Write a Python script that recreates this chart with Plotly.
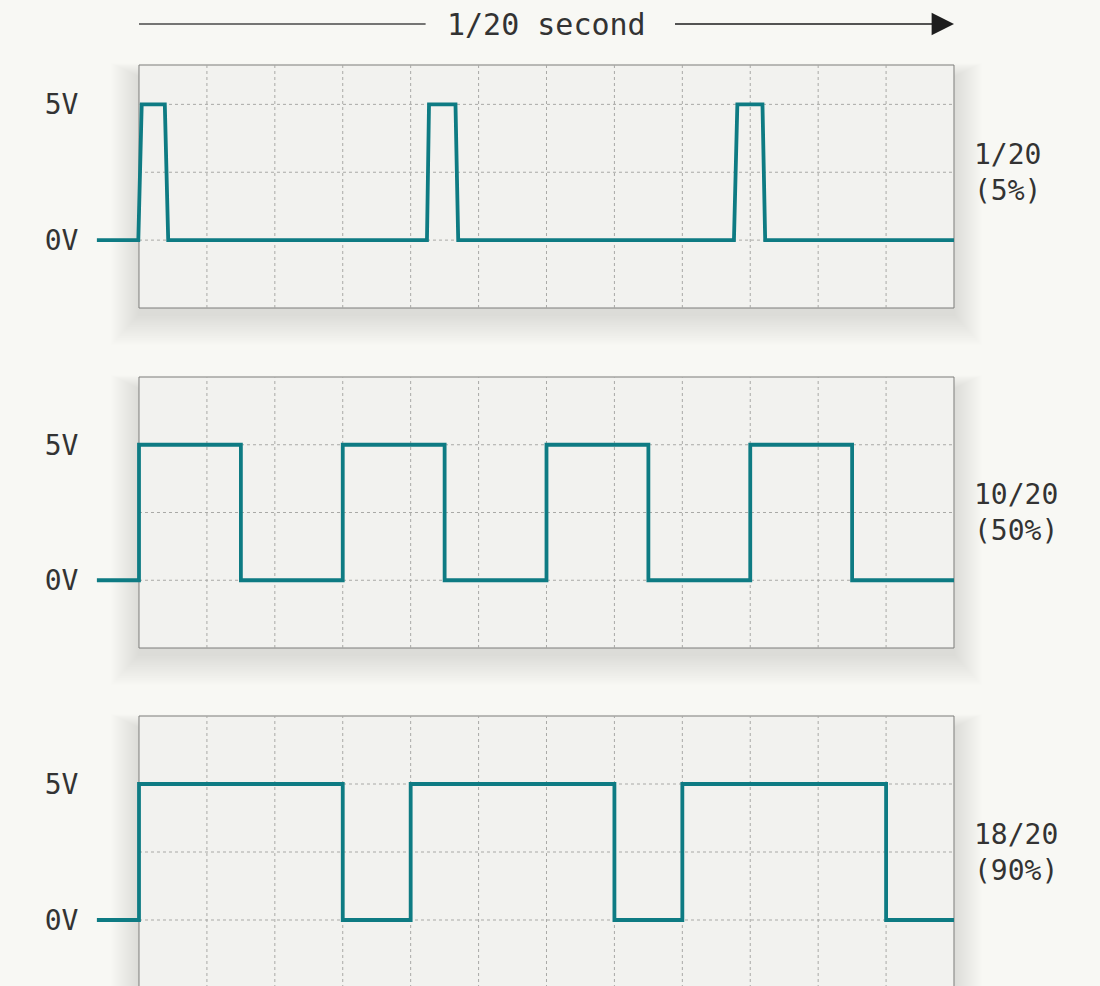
import plotly.graph_objects as go

W, H = 1100, 986

# ---------------- data ----------------
time_label = "1/20 second"
duty_labels = ["1/20<br>(5%)", "10/20<br>(50%)", "18/20<br>(90%)"]
volt_tickvals = [0, 5]
volt_ticktext = ["0V", "5V"]
grid_cols = list(range(1, 12))          # time divisions
grid_rows = [-2.5, 0, 2.5, 5, 7.5]      # volts

# panel 1: 5% duty (time in grid divisions, volts)
p1_t = [-0.62, -0.01, 0.04, 0.38, 0.43, 4.24, 4.27, 4.66, 4.70, 8.76, 8.81, 9.18, 9.22, 12.0]
p1_v = [0, 0, 5, 5, 0, 0, 5, 5, 0, 0, 5, 5, 0, 0]
# panel 2: 50% duty (step, hv)
p2_t = [-0.62, 0, 1.5, 3, 4.5, 6, 7.5, 9, 10.5, 12]
p2_v = [0, 5, 0, 5, 0, 5, 0, 5, 0, 0]
# panel 3: "90%" duty (step, hv)
p3_t = [-0.62, 0, 3, 4, 7, 8, 11, 12]
p3_v = [0, 5, 0, 5, 0, 5, 0, 0]

series = [(p1_t, p1_v, "linear"), (p2_t, p2_v, "hv"), (p3_t, p3_v, "hv")]

# ---------------- style / geometry ----------------
FONT = "DejaVu Sans Mono"
TXT = "#333333"
TEAL = "#0e7b83"
BG = "#f8f8f4"
PANEL = "#f2f2ef"
GRID = "#a9a9a6"

PX_L, PX_R = 139, 954
NDIV = 12
UNIT = (PX_R - PX_L) / NDIV
XR = [-0.7, 12.1]
xdom = [(PX_L + XR[0] * UNIT) / W, (PX_L + XR[1] * UNIT) / W]

# pixel top/bottom of each panel box and volts at its bottom/top
panels = [
    dict(top=65, bot=308, vlo=-2.5, vhi=6.45),
    dict(top=377, bot=648, vlo=-2.5, vhi=7.5),
    dict(top=716, bot=988, vlo=-2.5, vhi=7.5),
]

fig = go.Figure()
shapes, annotations = [], []
layout = dict(
    width=W, height=H,
    margin=dict(l=0, r=0, t=0, b=0),
    paper_bgcolor=BG, plot_bgcolor="rgba(0,0,0,0)",
    showlegend=False,
)

for i, (p, (t, v, shape)) in enumerate(zip(panels, series)):
    n = "" if i == 0 else str(i + 1)
    xa, ya = "x" + n, "y" + n
    s = (p["bot"] - p["top"]) / (p["vhi"] - p["vlo"])
    pad = 0.1
    top_px = p["top"] - pad * s
    bot_px = p["bot"] + pad * s
    ylo = p["vlo"] - pad
    if bot_px > H:
        ylo = p["vlo"] + (p["bot"] - H) / s
        bot_px = H
    yr = [ylo, p["vhi"] + pad]
    ydom = [max(0, 1 - bot_px / H), 1 - top_px / H]

    layout["xaxis" + n] = dict(domain=xdom, range=XR, visible=False, anchor=ya,
                               fixedrange=True)
    layout["yaxis" + n] = dict(
        domain=ydom, range=yr, anchor=xa, showgrid=False, zeroline=False,
        showline=False, ticks="", tickvals=volt_tickvals, ticktext=volt_ticktext,
        tickfont=dict(family=FONT, size=28, color=TXT), ticklabelstandoff=12,
        fixedrange=True,
    )

    # soft drop shadow (paper coords)
    for k in range(14):
        e = 2.2 * (k + 1)
        off = 6
        shapes.append(dict(
            type="rect", xref="paper", yref="paper", layer="below",
            x0=(PX_L - e * 0.9) / W, x1=(PX_R + e * 0.9) / W,
            y0=1 - (p["bot"] + off + e) / H, y1=1 - (p["top"] + off + 6 - e * 0.45) / H,
            fillcolor="rgba(60,60,50,0.008)", line=dict(width=0),
        ))
    # panel box
    shapes.append(dict(type="rect", xref=xa, yref=ya, layer="below",
                       x0=0, x1=NDIV, y0=p["vlo"], y1=p["vhi"],
                       fillcolor=PANEL, line=dict(color="#7d7d7b", width=1)))
    # grid
    for c in grid_cols:
        shapes.append(dict(type="line", xref=xa, yref=ya, layer="between",
                           x0=c, x1=c, y0=p["vlo"], y1=p["vhi"],
                           line=dict(color=GRID, width=1, dash="dot")))
    for r in grid_rows:
        if p["vlo"] < r < p["vhi"]:
            shapes.append(dict(type="line", xref=xa, yref=ya, layer="between",
                               x0=0, x1=NDIV, y0=r, y1=r,
                               line=dict(color=GRID, width=1, dash="dot")))

    fig.add_trace(go.Scatter(x=t, y=v, mode="lines", line_shape=shape,
                             line=dict(color=TEAL, width=3.8),
                             xaxis=xa, yaxis=ya, hoverinfo="skip"))

    annotations.append(dict(
        xref="paper", yref=ya, x=972 / W, y=2.5, xanchor="left", yanchor="middle",
        align="left", text=duty_labels[i], showarrow=False,
        font=dict(family=FONT, size=28, color=TXT),
    ))

# top time arrow
ytop = 1 - 24 / H
annotations.append(dict(xref="x", yref="paper", x=6, y=1 - 25 / H,
                        text=time_label, showarrow=False,
                        font=dict(family=FONT, size=30, color=TXT),
                        xanchor="center", yanchor="middle"))
shapes.append(dict(type="line", xref="x", yref="paper", x0=0, x1=4.22,
                   y0=ytop, y1=ytop, line=dict(color="#4a4a4a", width=1.4)))
annotations.append(dict(xref="x", yref="paper", x=12, y=ytop, axref="x", ax=7.87,
                        ayref="pixel", ay=0, text="", showarrow=True,
                        arrowhead=2, arrowsize=3.2, arrowwidth=1.4,
                        arrowcolor="#1e1e1e"))

layout["shapes"] = shapes
layout["annotations"] = annotations
fig.update_layout(**layout)
fig.write_html(
    "out.html",
    config={"displayModeBar": False, "staticPlot": True},
    post_script="document.body.style.margin='0';document.body.style.overflow='hidden';"
                f"document.body.style.background='{BG}';",
)
